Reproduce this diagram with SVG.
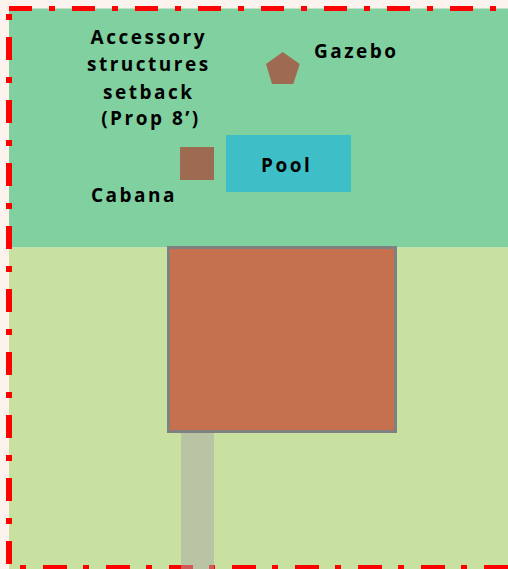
<svg xmlns="http://www.w3.org/2000/svg" width="508" height="569" viewBox="0 0 508 569">
<style>
.lbl{font-family:"Open Sans","Liberation Sans",sans-serif;font-weight:bold;font-size:19px;letter-spacing:2.5px;fill:#000}
.brd{stroke:#FF0000;fill:none}
.brown{fill:#9F6A52}
</style>
<rect x="0" y="0" width="508" height="569" fill="#FDF3EE"/>
<g id="yard-back">
<rect x="9" y="8.5" width="499" height="239" fill="#80D0A0"/>
</g>
<g id="yard-front">
<rect x="9" y="247.5" width="499" height="322" fill="#C8E1A0"/>
</g>
<g id="property-line">
<line class="brd" x1="9" y1="8.5" x2="508" y2="8.5" stroke-width="5" stroke-dasharray="23 17 6 17"/>
<line class="brd" x1="9" y1="14" x2="9" y2="569" stroke-width="6" stroke-dasharray="6 17 23 17"/>
<line class="brd" x1="20" y1="567.5" x2="508" y2="567.5" stroke-width="5" stroke-dasharray="6 17 24 16"/>
</g>
<g id="walkway">
<rect x="181" y="425" width="33" height="144" fill="#A9A9A9" fill-opacity="0.52"/>
</g>
<g id="house">
<rect x="168.5" y="247.5" width="227" height="184" fill="#C5714F" stroke="#808080" stroke-width="3"/>
</g>
<g id="cabana">
<rect class="brown" x="180" y="147" width="34" height="33"/>
<text class="lbl" x="91" y="202">Cabana</text>
</g>
<g id="pool">
<rect x="226" y="135" width="125" height="57" fill="#3EBFC8"/>
<text class="lbl" x="261" y="172">Pool</text>
</g>
<g id="gazebo">
<polygon class="brown" points="282.7,52 299.7,64 293.3,84 272,84 266,64"/>
<text class="lbl" x="314" y="58">Gazebo</text>
</g>
<g id="setback-label">
<text class="lbl" text-anchor="middle">
<tspan x="152.5" y="44">Accessory</tspan>
<tspan x="152.5" y="71">structures</tspan>
<tspan x="152.5" y="99">setback</tspan>
<tspan x="151" y="125">(Prop 8’)</tspan>
</text>
</g>
<g id="connectors"/>
</svg>
